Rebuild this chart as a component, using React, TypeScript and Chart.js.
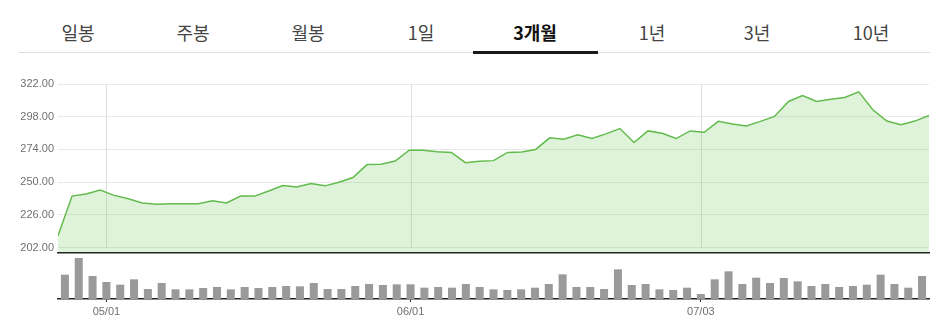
import React, { useEffect, useRef } from "react";
import { Chart, registerables } from "chart.js";

Chart.register(...registerables);

const dates = [
  "04/26", "04/27", "04/28", "05/01", "05/02", "05/03", "05/04", "05/05", "05/08", "05/09",
  "05/10", "05/11", "05/12", "05/15", "05/16", "05/17", "05/18", "05/19", "05/22", "05/23",
  "05/24", "05/25", "05/26", "05/30", "05/31", "06/01", "06/02", "06/05", "06/06", "06/07",
  "06/08", "06/09", "06/12", "06/13", "06/14", "06/15", "06/16", "06/20", "06/21", "06/22",
  "06/23", "06/26", "06/27", "06/28", "06/29", "06/30", "07/03", "07/05", "07/06", "07/07",
  "07/10", "07/11", "07/12", "07/13", "07/14", "07/17", "07/18", "07/19", "07/20", "07/21",
  "07/24", "07/25", "07/26",
];

const prices = [
  210.7, 239.8, 241.3, 244.2, 240.3, 237.9, 234.7, 233.8, 234.2, 234.2,
  234.2, 236.4, 234.7, 239.8, 239.8, 243.5, 247.6, 246.4, 249.0, 247.3,
  250.0, 253.4, 262.9, 263.1, 265.5, 273.5, 273.5, 272.3, 271.8, 264.3,
  265.3, 265.8, 271.8, 272.1, 274.0, 282.5, 281.5, 284.7, 282.0, 285.4,
  289.3, 279.1, 287.6, 285.9, 282.0, 287.6, 286.6, 294.6, 292.7, 291.2,
  294.6, 298.2, 309.2, 313.5, 309.2, 310.8, 312.1, 316.2, 303.1, 294.8,
  292.2, 294.8, 299.0,
];

const volumes = [
  73, 123, 69, 51, 43, 59, 30, 48, 29, 29,
  33, 36, 29, 36, 33, 36, 39, 38, 48, 30,
  30, 39, 45, 42, 44, 44, 34, 36, 34, 45,
  36, 29, 27, 29, 34, 45, 74, 36, 36, 30,
  89, 42, 45, 29, 27, 34, 15, 59, 83, 45,
  64, 48, 63, 53, 39, 45, 36, 39, 43, 73,
  45, 34, 69,
];

const priceTicks = [202, 226, 250, 274, 298, 322];
const priceMin = 198.5;
const volumeMax = 132;

const tabs = ["일봉", "주봉", "월봉", "1일", "3개월", "1년", "3년", "10년"];
const tabCenters = [78, 193, 308, 421, 535, 652, 757, 871];
const activeTab = "3개월";

const monthStarts = dates
  .map((d, i) => (i > 0 && d.slice(0, 2) !== dates[i - 1].slice(0, 2) ? i : -1))
  .filter((i) => i >= 0);

const FONT = "'Liberation Sans', Arial, sans-serif";

export default function App() {
  const lineRef = useRef<HTMLCanvasElement>(null);
  const barRef = useRef<HTMLCanvasElement>(null);

  useEffect(() => {
    Chart.defaults.font.family = FONT;
    Chart.defaults.font.size = 11;
    const n = prices.length;

    const vGrid = {
      id: "vGrid",
      beforeDatasetsDraw(chart: any) {
        const xs = chart.scales.x;
        const ys = chart.scales.y;
        const ctx = chart.ctx;
        const top = ys.getPixelForValue(priceTicks[priceTicks.length - 1]);
        const bottom = ys.getPixelForValue(priceTicks[0]);
        ctx.save();
        ctx.strokeStyle = "#dedede";
        ctx.lineWidth = 1;
        monthStarts.forEach((i) => {
          const v = ((i + 0.5) * (n - 1)) / n;
          const px = Math.round(xs.getPixelForValue(v)) + 0.5;
          ctx.beginPath();
          ctx.moveTo(px, top);
          ctx.lineTo(px, bottom);
          ctx.stroke();
        });
        ctx.restore();
      },
    };

    const lineChart = new Chart(lineRef.current!, {
      type: "line",
      data: {
        datasets: [
          {
            data: prices.map((p, i) => ({ x: i, y: p })),
            borderColor: "#62bb4d",
            borderWidth: 1.5,
            backgroundColor: "rgba(110,200,90,0.22)",
            fill: "start",
            pointRadius: 0,
            tension: 0,
          },
        ],
      },
      options: {
        animation: false,
        responsive: false,
        layout: { padding: { top: 24, right: 23, bottom: 8, left: 0 } },
        plugins: { legend: { display: false }, tooltip: { enabled: false } },
        scales: {
          x: {
            type: "linear",
            min: 0,
            max: n - 1,
            grid: { display: false, drawTicks: false },
            ticks: { display: false },
            border: { display: true, color: "#222", width: 1.5 },
            afterFit(scale: any) {
              scale.height = 0;
            },
          },
          y: {
            min: priceMin,
            max: priceTicks[priceTicks.length - 1],
            afterBuildTicks(scale: any) {
              scale.ticks = priceTicks.map((v) => ({ value: v }));
            },
            afterFit(scale: any) {
              scale.width = 58;
            },
            grid: { color: "#e8e8e8", drawTicks: false },
            border: { display: false },
            ticks: {
              padding: 4,
              color: "#707070",
              font: { size: 11, family: FONT },
              callback: (v: any) => Number(v).toFixed(2),
            },
          },
        },
      },
      plugins: [vGrid],
    });

    const barChart = new Chart(barRef.current!, {
      type: "bar",
      data: {
        labels: dates,
        datasets: [
          {
            data: volumes,
            backgroundColor: "#9a9a9a",
            barPercentage: 0.58,
            categoryPercentage: 1,
          },
        ],
      },
      options: {
        animation: false,
        responsive: false,
        layout: { padding: { top: 5, right: 23, bottom: 0, left: 58 } },
        plugins: { legend: { display: false }, tooltip: { enabled: false } },
        scales: {
          x: {
            type: "category",
            offset: true,
            afterBuildTicks(scale: any) {
              scale.ticks = monthStarts.map((i) => ({ value: i }));
            },
            afterFit(scale: any) {
              scale.height = 27;
            },
            grid: {
              offset: false,
              drawOnChartArea: false,
              drawTicks: true,
              tickLength: 3,
              color: "#333",
            },
            border: { display: true, color: "#222", width: 1.5 },
            ticks: {
              autoSkip: false,
              maxRotation: 0,
              padding: 3,
              color: "#707070",
              font: { size: 11, family: FONT },
              callback: (v: any) => dates[Number(v)],
            },
          },
          y: {
            display: false,
            min: 0,
            max: volumeMax,
          },
        },
      },
    });

    return () => {
      lineChart.destroy();
      barChart.destroy();
    };
  }, []);

  return (
    <div
      style={{
        position: "fixed",
        left: 0,
        top: 0,
        width: 952,
        height: 326,
        background: "#fff",
        overflow: "hidden",
      }}
    >
      {tabs.map((t, i) => (
        <div
          key={t}
          style={{
            position: "absolute",
            left: tabCenters[i] - 60,
            width: 120,
            top: 18,
            height: 28,
            lineHeight: "28px",
            textAlign: "center",
            fontFamily: "'Noto Sans CJK KR', 'Noto Sans', sans-serif",
            fontSize: 18,
            fontWeight: t === activeTab ? 700 : 400,
            color: t === activeTab ? "#111" : "#444",
            whiteSpace: "nowrap",
          }}
        >
          {t}
        </div>
      ))}
      <div
        style={{
          position: "absolute",
          left: 19,
          width: 911,
          top: 52,
          height: 1,
          background: "#dddddd",
        }}
      />
      <div
        style={{
          position: "absolute",
          left: 473,
          width: 125,
          top: 51,
          height: 3,
          background: "#1a1a1a",
        }}
      />
      <canvas
        ref={lineRef}
        width={952}
        height={203}
        style={{ position: "absolute", left: 0, top: 60, display: "block" }}
      />
      <canvas
        ref={barRef}
        width={952}
        height={76}
        style={{ position: "absolute", left: 0, top: 250, display: "block" }}
      />
    </div>
  );
}
